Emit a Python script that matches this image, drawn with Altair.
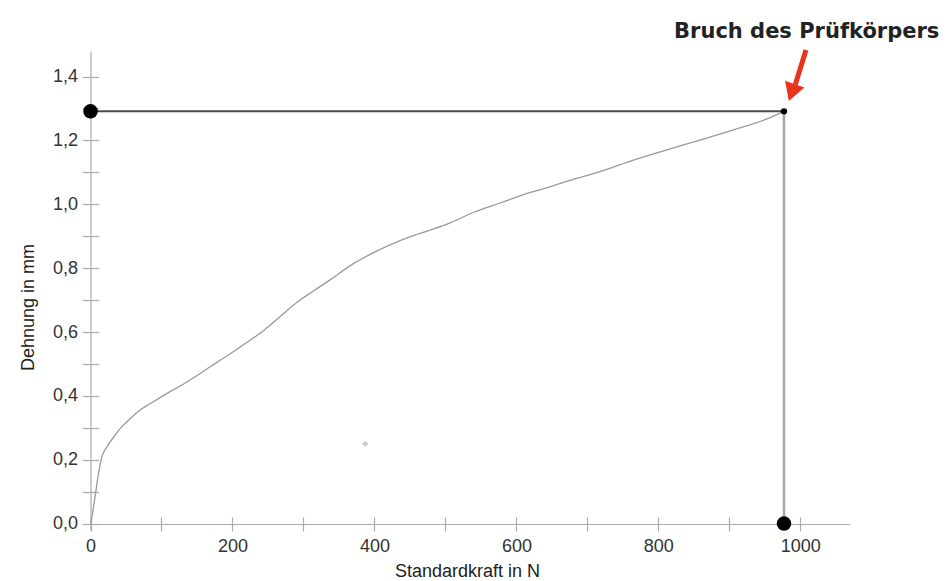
import altair as alt
import pandas as pd

# ---- data ----
kraft = [0, 2, 7, 12, 16, 23, 33, 42, 56, 70, 85, 108, 131, 155, 178, 197, 220, 244, 268,
         291, 315, 338, 366, 400, 437, 470, 507, 540, 577, 610, 648, 680, 719, 766, 813,
         860, 907, 954, 977]
dehnung = [0.0, 0.021, 0.094, 0.167, 0.209, 0.24, 0.272, 0.298, 0.329, 0.356, 0.377, 0.408,
           0.437, 0.471, 0.505, 0.532, 0.567, 0.605, 0.65, 0.693, 0.73, 0.764, 0.808, 0.85,
           0.887, 0.913, 0.942, 0.975, 1.004, 1.03, 1.055, 1.078, 1.103, 1.139, 1.171, 1.202,
           1.234, 1.268, 1.291]

bruch_kraft = 977
bruch_dehnung = 1.291

x_ticks = [0, 100, 200, 300, 400, 500, 600, 700, 800, 900, 1000]
y_ticks = [0.0, 0.1, 0.2, 0.3, 0.4, 0.5, 0.6, 0.7, 0.8, 0.9, 1.0, 1.1, 1.2, 1.3, 1.4]

annot_text = ["Bruch des Prüfkörpers"]
annot_x = [1009]
annot_y = [1.52]

arrow_x = [1008, 993]
arrow_y = [1.483, 1.375]
arrow_head_x = [988]
arrow_head_y = [1.350]

artifact_x = [387]
artifact_y = [0.25]

FONT = "Liberation Sans"
X_DOM = [-12, 1070]
Y_DOM = [-0.02, 1.48]

xs = alt.Scale(domain=X_DOM, nice=False, zero=False)
ys = alt.Scale(domain=Y_DOM, nice=False, zero=False)

curve_df = pd.DataFrame({"x": kraft, "y": dehnung})

x_axis_main = alt.Axis(
    orient="bottom", values=x_ticks, offset=-6, tickSize=7, domainColor="#aaaaaa",
    tickColor="#aaaaaa", domainWidth=1.2, tickWidth=1.2, grid=False,
    labelExpr="datum.value % 200 == 0 ? datum.value : ''",
    labelFont=FONT, labelFontSize=18, labelColor="#333333", labelPadding=6,
    labelFlush=False, labelOverlap=False,
    title="Standardkraft in N", titleFont=FONT, titleFontSize=18, titleFontWeight="normal",
    titleColor="#222222", titleX=385, titleY=38, titleBaseline="top",
)
y_axis_main = alt.Axis(
    orient="left", values=y_ticks, offset=-8.5, tickSize=8, domainColor="#aaaaaa",
    tickColor="#aaaaaa", domainWidth=1.2, tickWidth=1.2, grid=False,
    labelExpr="round(datum.value*10) % 2 == 0 ? replace(format(datum.value, '.1f'), '.', ',') : ''",
    labelFont=FONT, labelFontSize=18, labelColor="#333333", labelPadding=5,
    labelFlush=False, labelOverlap=False,
    title="Dehnung in mm", titleFont=FONT, titleFontSize=18, titleFontWeight="normal",
    titleColor="#222222", titleX=-62, titleY=256, titleAngle=-90, titleBaseline="middle",
)

curve = alt.Chart(curve_df).mark_line(color="#9a9a9a", strokeWidth=1.3,
                                      interpolate="monotone").encode(
    x=alt.X("x:Q", scale=xs, axis=x_axis_main),
    y=alt.Y("y:Q", scale=ys, axis=y_axis_main),
    order="x:Q",
)

# inner half of the crossing ticks
x_axis_in = alt.Axis(orient="bottom", values=x_ticks, offset=-13, tickSize=7, domain=False,
                     labels=False, tickColor="#aaaaaa", tickWidth=1.2, grid=False, title="")
y_axis_in = alt.Axis(orient="left", values=y_ticks, offset=-16.5, tickSize=8, domain=False,
                     labels=False, tickColor="#aaaaaa", tickWidth=1.2, grid=False, title="")

hline_df = pd.DataFrame({"x": [0], "x2": [bruch_kraft], "y": [bruch_dehnung]})
hline = alt.Chart(hline_df).mark_rule(color="#4a4a4a", strokeWidth=2).encode(
    x=alt.X("x:Q", scale=xs, axis=x_axis_in),
    x2="x2:Q",
    y=alt.Y("y:Q", scale=ys, axis=y_axis_in),
)


def X(field="x"):
    return alt.X(f"{field}:Q", scale=xs, axis=None)


def Y(field="y"):
    return alt.Y(f"{field}:Q", scale=ys, axis=None)


vline_df = pd.DataFrame({"x": [bruch_kraft], "y": [0], "y2": [bruch_dehnung]})
vline = alt.Chart(vline_df).mark_rule(color="#a8a8a8", strokeWidth=2.5).encode(
    x=X(), y=Y(), y2="y2:Q",
)

big_df = pd.DataFrame({"x": [0, bruch_kraft], "y": [bruch_dehnung, 0]})
big_dots = alt.Chart(big_df).mark_circle(color="black", opacity=1, size=210).encode(
    x=X(), y=Y(),
)

small_df = pd.DataFrame({"x": [bruch_kraft], "y": [bruch_dehnung]})
small_dot = alt.Chart(small_df).mark_circle(color="black", opacity=1, size=40).encode(
    x=X(), y=Y(),
)

art_df = pd.DataFrame({"x": artifact_x, "y": artifact_y})
artifact = alt.Chart(art_df).mark_point(shape="cross", color="#bbbbbb", filled=True,
                                         size=30, opacity=0.8).encode(
    x=X(), y=Y(),
)

arrow_df = pd.DataFrame({"x": [arrow_x[0]], "x2": [arrow_x[1]],
                         "y": [arrow_y[0]], "y2": [arrow_y[1]]})
arrow_shaft = alt.Chart(arrow_df).mark_rule(color="#e8341c", strokeWidth=5).encode(
    x=X(), x2="x2:Q", y=Y(), y2="y2:Q",
)
head_df = pd.DataFrame({"x": arrow_head_x, "y": arrow_head_y})
arrow_head = alt.Chart(head_df).mark_point(shape="triangle-down", filled=True,
                                            color="#e8341c", opacity=1, size=420,
                                            angle=19).encode(
    x=X(), y=Y(),
)

ann_df = pd.DataFrame({"x": annot_x, "y": annot_y, "t": annot_text})
annot = alt.Chart(ann_df).mark_text(font="DejaVu Sans", fontSize=21, fontWeight="bold",
                                     color="#222222", align="center",
                                     baseline="alphabetic").encode(
    x=X(), y=Y(), text="t:N",
)

chart = alt.layer(
    curve, hline, vline, big_dots, small_dot, artifact, arrow_shaft, arrow_head, annot
).resolve_axis(x="independent", y="independent").properties(
    width=768, height=479,
    background="white",
    autosize=alt.AutoSizeParams(type="none"),
    padding={"left": 74, "top": 43, "right": 91, "bottom": 50},
).configure_view(stroke=None)

chart.save("out.html", embed_options={"renderer": "svg", "actions": False})
